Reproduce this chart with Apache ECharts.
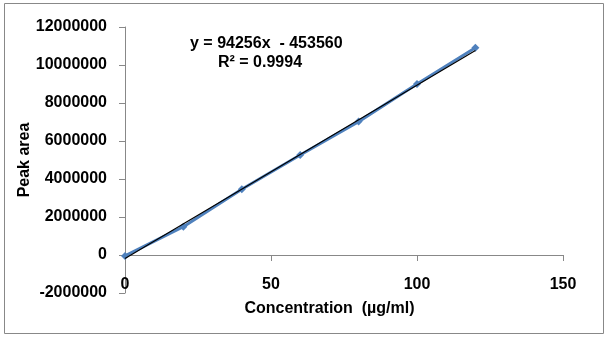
<!DOCTYPE html>
<html>
<head>
<meta charset="utf-8">
<script src="https://cdn.jsdelivr.net/npm/echarts@6/dist/echarts.min.js"></script>
<style>html,body{margin:0;padding:0;background:#fff}#c{width:608px;height:337px}</style>
</head>
<body>
<div id="c"></div>
<script>
const concentrations = [0, 20, 40, 60, 80, 100, 120];
const peakAreas = [-50000, 1490000, 3460000, 5260000, 7020000, 9000000, 10910000];
const trendX = [0, 120];
const trendY = [-180000, 10760000];
const equationText = 'y = 94256x  - 453560';
const r2Text = 'R² = 0.9994';

const chart = echarts.init(document.getElementById('c'));
const font = 'Liberation Sans, Arial, sans-serif';
chart.setOption({
  animation: false,
  grid: {left: 125, right: 45, top: 27, bottom: 44, containLabel: false, outerBoundsMode: 'none'},
  graphic: [
    {type: 'rect', shape: {x: 4.5, y: 3.5, width: 599, height: 330}, style: {fill: 'none', stroke: '#888', lineWidth: 1}, z: -1},
    {type: 'text', left: 190, top: 36, style: {text: equationText, font: 'bold 16px ' + font, fill: '#000'}},
    {type: 'text', left: 218, top: 55, style: {text: r2Text, font: 'bold 16px ' + font, fill: '#000'}}
  ],
  xAxis: {
    type: 'value', min: 0, max: 150, interval: 50,
    name: 'Concentration  (µg/ml)', nameLocation: 'middle', nameGap: 8, nameMoveOverlap: false,
    nameTextStyle: {fontFamily: font, fontWeight: 'bold', fontSize: 16, color: '#000', padding: [0, 29, 0, 0]},
    axisLine: {onZero: true, lineStyle: {color: '#888', width: 1}},
    axisTick: {show: true, length: 6, lineStyle: {color: '#888'}},
    axisLabel: {margin: -16, fontFamily: font, fontWeight: 'bold', fontSize: 16, color: '#000', formatter: v => String(v)},
    splitLine: {show: false}
  },
  yAxis: {
    type: 'value', min: -2000000, max: 12000000, interval: 2000000,
    name: 'Peak area', nameLocation: 'middle', nameGap: 92, nameMoveOverlap: false,
    nameTextStyle: {fontFamily: font, fontWeight: 'bold', fontSize: 16, color: '#000'},
    axisLine: {show: true, onZero: false, lineStyle: {color: '#888', width: 1}},
    axisTick: {show: true, length: 6, lineStyle: {color: '#888'}},
    axisLabel: {margin: 18, fontFamily: font, fontWeight: 'bold', fontSize: 16, color: '#000', formatter: v => String(v)},
    splitLine: {show: false}
  },
  series: [
    {
      type: 'line', data: concentrations.map((x, i) => [x, peakAreas[i]]),
      symbol: 'diamond', symbolSize: 8, showSymbol: true,
      lineStyle: {color: '#4F81BD', width: 3},
      itemStyle: {color: '#4F81BD'}, z: 2
    },
    {
      type: 'line', data: trendX.map((x, i) => [x, trendY[i]]), symbol: 'none',
      lineStyle: {color: '#000', width: 1.2}, z: 3
    }
  ]
});
</script>
</body>
</html>
